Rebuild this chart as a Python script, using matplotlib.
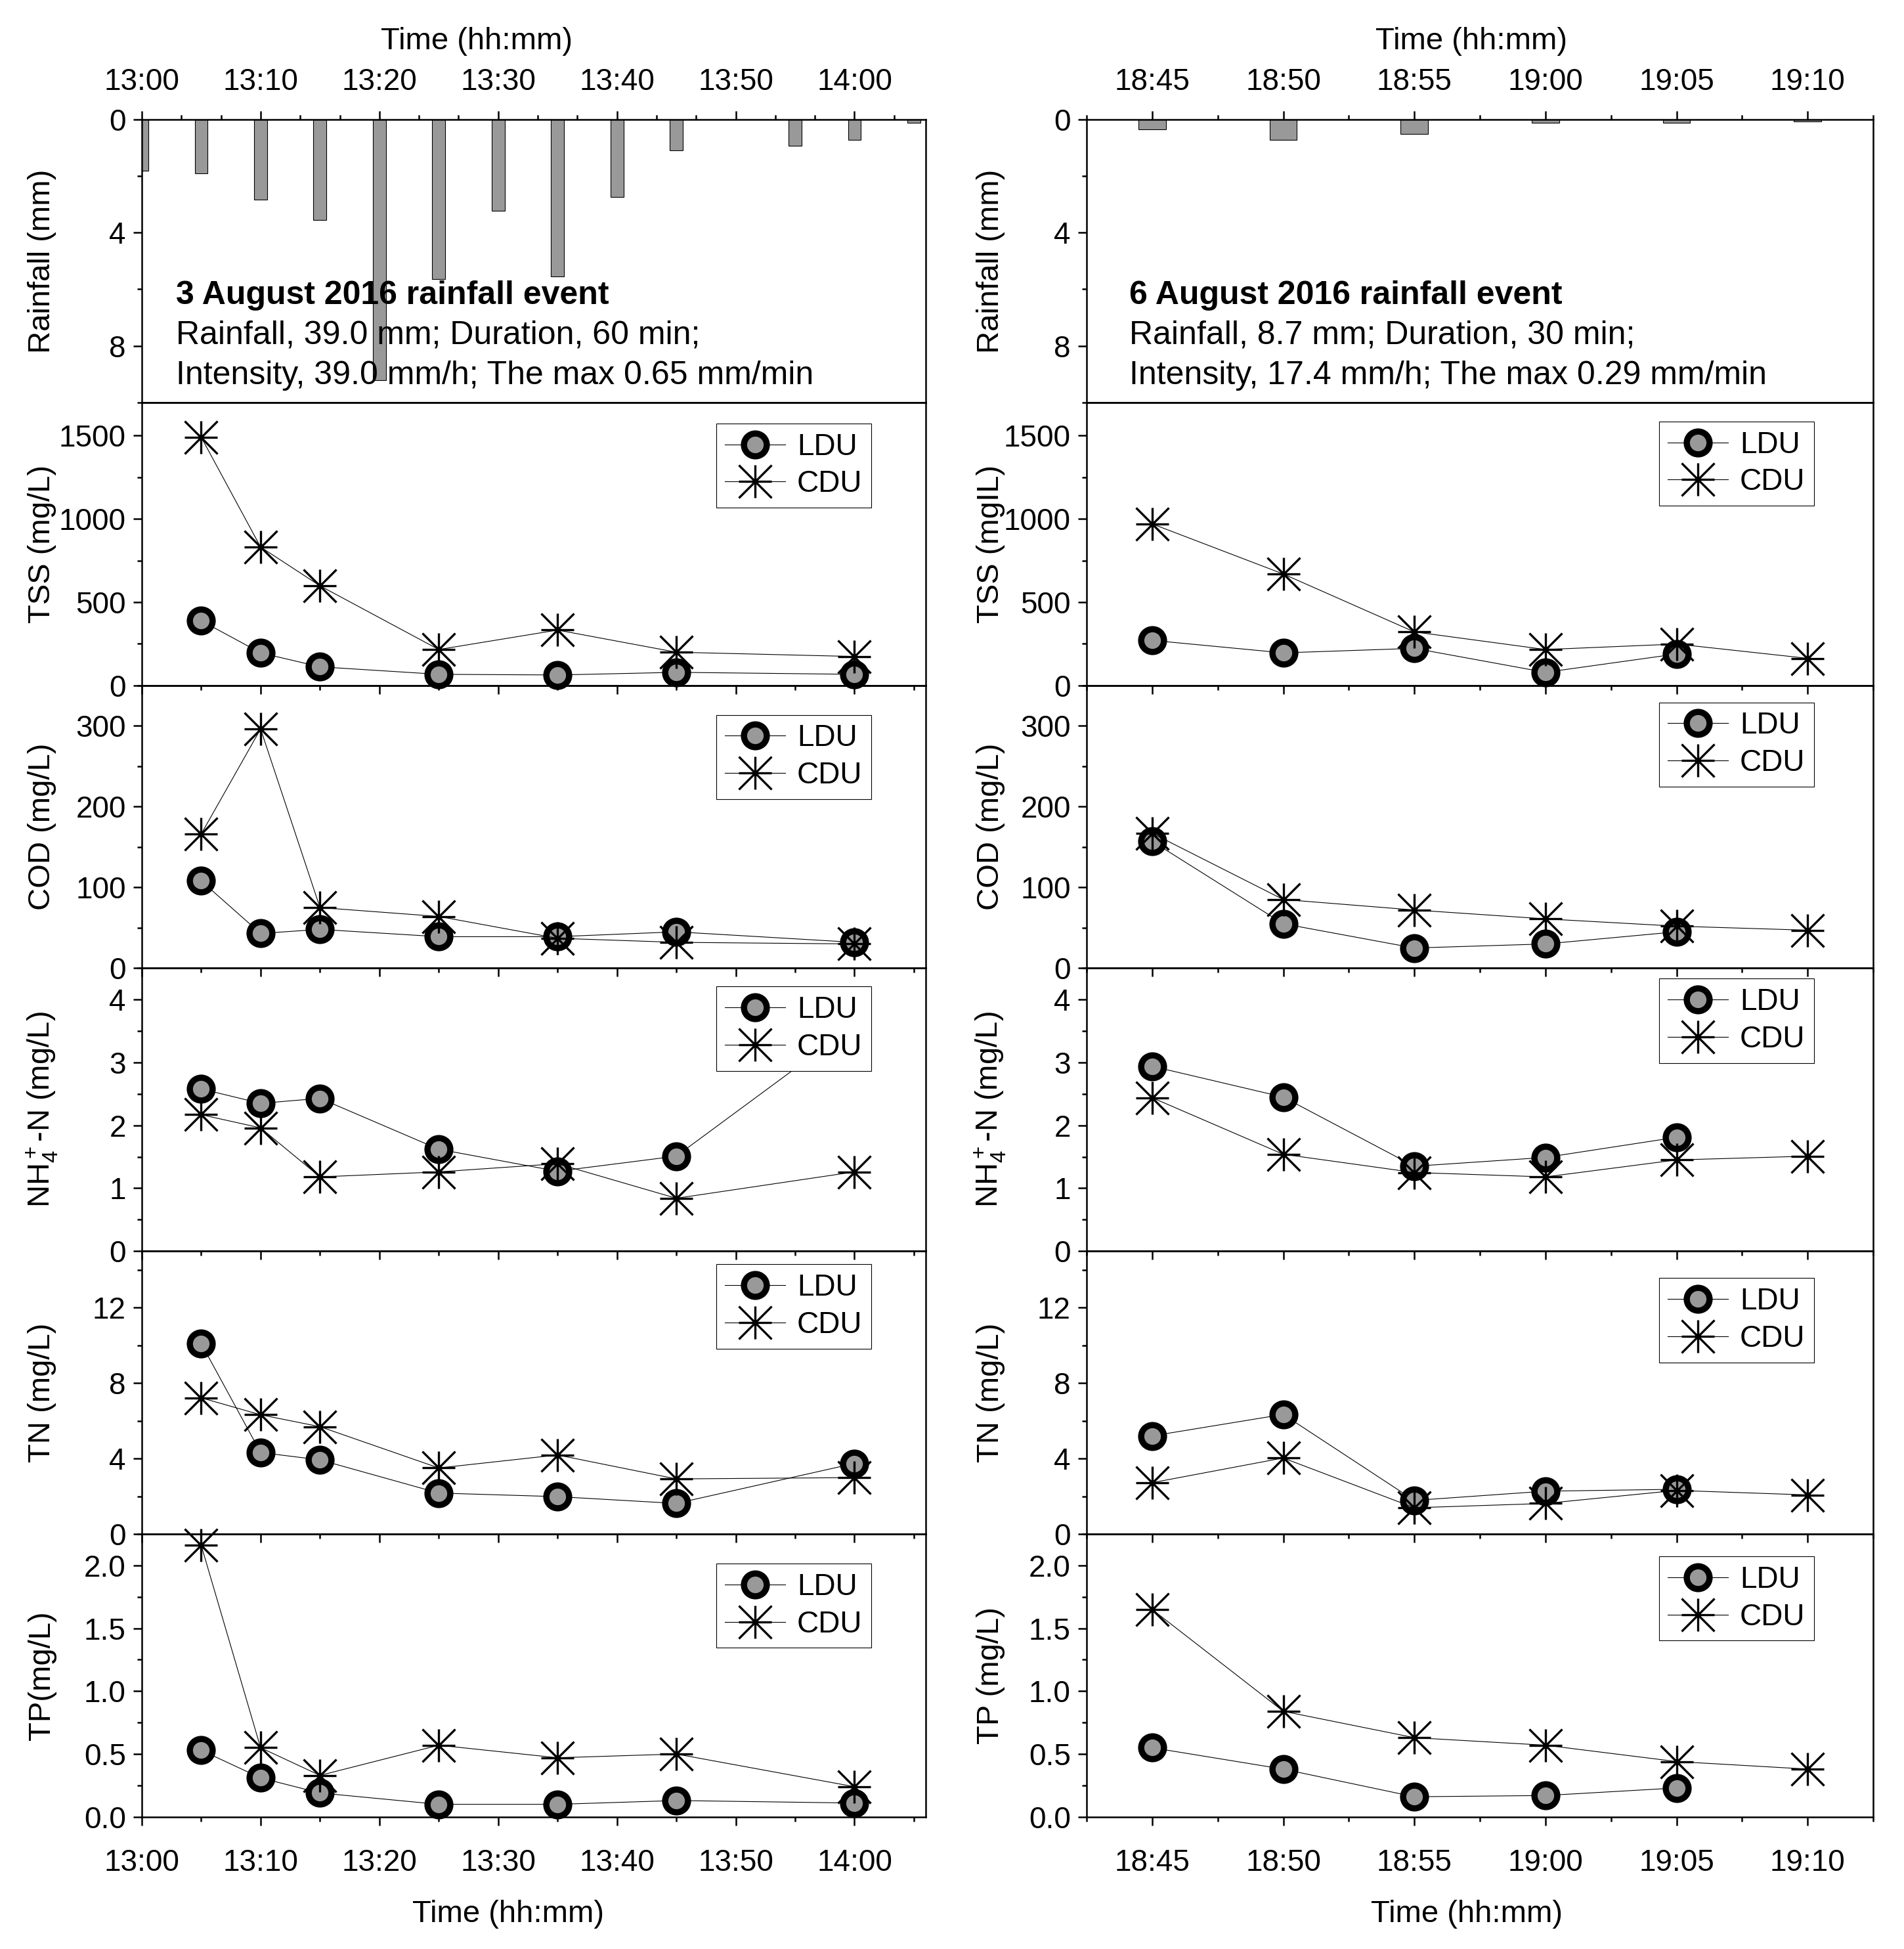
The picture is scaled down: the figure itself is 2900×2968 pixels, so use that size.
"""
Rainfall and runoff pollutant concentrations for two storm events
(LDU vs CDU outlets), six stacked panels per event.
"""

import matplotlib
matplotlib.use("Agg")
import matplotlib.pyplot as plt
import numpy as np
from matplotlib.path import Path
from matplotlib.ticker import FixedLocator, MultipleLocator, FormatStrFormatter

plt.rcParams["font.family"] = ["Liberation Sans", "DejaVu Sans"]
plt.rcParams["mathtext.fontset"] = "custom"
plt.rcParams["mathtext.rm"] = "Liberation Sans"
plt.rcParams["mathtext.it"] = "Liberation Sans:italic"
plt.rcParams["mathtext.bf"] = "Liberation Sans:bold"

# ---------------- 3 August 2016 event (left column) ----------------
aug3_start = "13:00"
aug3_ticks = ["13:00", "13:10", "13:20", "13:30", "13:40", "13:50", "14:00"]
aug3_rain_times = ["13:00", "13:05", "13:10", "13:15", "13:20", "13:25", "13:30",
                   "13:35", "13:40", "13:45", "13:55", "14:00", "14:05"]
aug3_rain_mm = [1.82, 1.91, 2.83, 3.54, 9.21, 5.63, 3.22, 5.54, 2.73, 1.10, 0.92, 0.72, 0.11]
aug3_times = ["13:05", "13:10", "13:15", "13:25", "13:35", "13:45", "14:00"]
aug3_tss_ldu = [388, 195, 111, 66, 62, 78, 66]
aug3_tss_cdu = [1491, 831, 598, 215, 332, 199, 173]
aug3_cod_ldu = [108, 43, 48, 39, 39, 45, 32]
aug3_cod_cdu = [166, 296, 75, 64, 37, 32, 30]
aug3_nh4_ldu = [2.58, 2.35, 2.43, 1.62, 1.27, 1.51, 3.6]
aug3_nh4_cdu = [2.17, 1.96, 1.18, 1.26, 1.39, 0.84, 1.26]
aug3_tn_ldu = [10.1, 4.32, 3.93, 2.17, 1.98, 1.62, 3.74]
aug3_tn_cdu = [7.22, 6.32, 5.69, 3.5, 4.19, 2.92, 2.99]
aug3_tp_ldu = [0.53, 0.31, 0.19, 0.10, 0.10, 0.13, 0.11]
aug3_tp_cdu = [2.16, 0.55, 0.33, 0.57, 0.47, 0.50, 0.24]
aug3_text = ["3 August 2016 rainfall event",
             "Rainfall, 39.0 mm; Duration, 60 min;",
             "Intensity, 39.0 mm/h; The max 0.65 mm/min"]

# ---------------- 6 August 2016 event (right column) ----------------
aug6_start = "18:45"
aug6_ticks = ["18:45", "18:50", "18:55", "19:00", "19:05", "19:10"]
aug6_rain_times = ["18:45", "18:50", "18:55", "19:00", "19:05", "19:10"]
aug6_rain_mm = [0.34, 0.72, 0.51, 0.11, 0.11, 0.07]
aug6_times_ldu = ["18:45", "18:50", "18:55", "19:00", "19:05"]
aug6_times_cdu = ["18:45", "18:50", "18:55", "19:00", "19:05", "19:10"]
aug6_tss_ldu = [270, 195, 222, 78, 188]
aug6_tss_cdu = [970, 669, 321, 215, 248, 162]
aug6_cod_ldu = [157, 55, 25, 30, 45]
aug6_cod_cdu = [167, 85, 72, 61, 52, 47]
aug6_nh4_ldu = [2.94, 2.45, 1.35, 1.49, 1.81]
aug6_nh4_cdu = [2.44, 1.54, 1.25, 1.18, 1.45, 1.51]
aug6_tn_ldu = [5.2, 6.34, 1.78, 2.27, 2.37]
aug6_tn_cdu = [2.72, 4.03, 1.39, 1.62, 2.31, 2.07]
aug6_tp_ldu = [0.55, 0.38, 0.16, 0.17, 0.23]
aug6_tp_cdu = [1.65, 0.84, 0.63, 0.57, 0.44, 0.38]
aug6_text = ["6 August 2016 rainfall event",
             "Rainfall, 8.7 mm; Duration, 30 min;",
             "Intensity, 17.4 mm/h; The max 0.29 mm/min"]

# ---------------- figure layout (pixels) ----------------
W, H = 2900, 2968
TOP = 182
PANEL_H = 430.8
TICK_FS = 33
LABEL_FS = 34
GREY = "#999999"

# asterisk marker used for CDU: + and x arms
STAR = Path([(-1, 0), (1, 0), (0, -1), (0, 1), (-1, -1), (1, 1), (-1, 1), (1, -1)],
            [Path.MOVETO, Path.LINETO] * 4)


def to_min(labels, start):
    h0, m0 = map(int, start.split(":"))
    out = []
    for s in labels:
        h, m = map(int, s.split(":"))
        out.append(h * 60 + m - (h0 * 60 + m0))
    return np.array(out, dtype=float)


def style_axes(ax):
    ax.patch.set_visible(False)
    for sp in ax.spines.values():
        sp.set_linewidth(1.8)
    ax.tick_params(which="both", direction="out", width=1.8, labelsize=TICK_FS)
    ax.tick_params(which="major", length=9.5)
    ax.tick_params(which="minor", length=5)
    ax.tick_params(axis="y", which="both", right=False, pad=8)


def draw_column(fig, left, width, col):
    axes = []
    for i in range(6):
        top = TOP + i * PANEL_H
        ax = fig.add_axes([left / W, 1 - (top + PANEL_H) / H, width / W, PANEL_H / H])
        style_axes(ax)
        ax.set_xlim(*col["xlim"])
        axes.append(ax)

    # rainfall bars, inverted axis, ticks on top
    ax = axes[0]
    ax.bar(to_min(col["rain_times"], col["start"]), col["rain_mm"], width=col["bar_w"],
           color=GREY, edgecolor="black", linewidth=0.8, zorder=2)
    ax.set_ylim(10, 0)
    ax.yaxis.set_major_locator(FixedLocator([0, 4, 8]))
    ax.yaxis.set_minor_locator(MultipleLocator(2))
    ax.xaxis.tick_top()
    ax.tick_params(axis="x", which="both", bottom=False, top=True,
                   labelbottom=False, labeltop=True, pad=16)
    ax.xaxis.set_major_locator(FixedLocator(to_min(col["ticks"], col["start"])))
    ax.xaxis.set_major_formatter(plt.FixedFormatter(col["ticks"]))
    ax.xaxis.set_minor_locator(MultipleLocator(col["top_minor"]))
    ax.xaxis.set_label_position("top")
    ax.set_xlabel("Time (hh:mm)", fontsize=LABEL_FS)
    ax.xaxis.label.set_va("center")
    ax.xaxis.set_label_coords(col["xlabel_top"], 1 + (TOP - 63) / PANEL_H)
    ax.set_ylabel("Rainfall (mm)", fontsize=LABEL_FS)
    for txt, yy, bold in zip(col["text"], [0.378, 0.237, 0.094], [True, False, False]):
        ax.text(col["text_x"], yy, txt, transform=ax.transAxes, ha="left", va="center",
                fontsize=36, fontweight="bold" if bold else "normal", zorder=4)

    panels = [
        ("tss", col["tss_label"], (0, 1700), 500, 250, "%d"),
        ("cod", "COD (mg/L)", (0, 350), 100, 50, "%d"),
        ("nh4", r"NH$_4^+$-N (mg/L)", (0, 4.5), 1, 0.5, "%d"),
        ("tn", "TN (mg/L)", (0, 15), 4, 2, "%d"),
        ("tp", col["tp_label"], (0, 2.25), 0.5, 0.25, "%.1f"),
    ]
    x_ldu = to_min(col["times_ldu"], col["start"])
    x_cdu = to_min(col["times_cdu"], col["start"])
    for j, (key, label, ylim, major, minor, fmt) in enumerate(panels):
        ax = axes[j + 1]
        ax.plot(x_ldu, col[key + "_ldu"], color="black", lw=0.8, marker="o", ms=25,
                mfc=GREY, mec="black", mew=6.8, clip_on=False, zorder=3, label="LDU")
        ax.plot(x_cdu, col[key + "_cdu"], color="black", lw=0.8, marker=STAR, ms=36,
                mfc="black", mec="black", mew=2.4, clip_on=False, zorder=3, label="CDU")
        ax.set_ylim(*ylim)
        ax.yaxis.set_major_locator(MultipleLocator(major))
        ax.yaxis.set_minor_locator(MultipleLocator(minor))
        ax.yaxis.set_major_formatter(FormatStrFormatter(fmt))
        ax.xaxis.set_major_locator(FixedLocator(to_min(col["ticks"], col["start"])))
        ax.xaxis.set_minor_locator(MultipleLocator(col["bottom_minor"]))
        ax.tick_params(axis="x", which="both", top=False, pad=25)
        ax.set_ylabel(label, fontsize=LABEL_FS)
        if j < 4:
            ax.tick_params(axis="x", labelbottom=False)
        else:
            ax.xaxis.set_major_formatter(plt.FixedFormatter(col["ticks"]))
            ax.set_xlabel("Time (hh:mm)", fontsize=LABEL_FS)
            ax.xaxis.label.set_va("center")
            ax.xaxis.set_label_coords(col["xlabel_bottom"], -148 / PANEL_H)
        dx = col["leg_dx"] / width
        dy = col["leg_dy"][j] / PANEL_H
        leg = ax.legend(loc="upper right", bbox_to_anchor=(1 - dx, 1 - dy), borderaxespad=0,
                        fontsize=TICK_FS, handlelength=2.0, handletextpad=0.39,
                        borderpad=0.3, labelspacing=0.28, fancybox=False,
                        edgecolor="black", framealpha=1, numpoints=1)
        leg.get_frame().set_linewidth(0.8)
        leg.set_zorder(10)

    for ax in axes:
        ax.yaxis.label.set_va("center")
        ax.yaxis.set_label_coords(col["ylabel_x"], 0.5)


fig = plt.figure(figsize=(W / 100, H / 100), dpi=100)

left_col = dict(
    start=aug3_start, ticks=aug3_ticks, xlim=(0, 66), bar_w=1.1,
    top_minor=10 / 3, bottom_minor=5,
    rain_times=aug3_rain_times, rain_mm=aug3_rain_mm,
    times_ldu=aug3_times, times_cdu=aug3_times,
    tss_ldu=aug3_tss_ldu, tss_cdu=aug3_tss_cdu, cod_ldu=aug3_cod_ldu, cod_cdu=aug3_cod_cdu,
    nh4_ldu=aug3_nh4_ldu, nh4_cdu=aug3_nh4_cdu, tn_ldu=aug3_tn_ldu, tn_cdu=aug3_tn_cdu,
    tp_ldu=aug3_tp_ldu, tp_cdu=aug3_tp_cdu,
    tss_label="TSS (mg/L)", tp_label="TP(mg/L)", text=aug3_text, text_x=0.0436,
    xlabel_top=0.427, xlabel_bottom=0.467, ylabel_x=-0.127,
    leg_dx=83, leg_dy=[32, 45, 28, 20, 45],
)
right_col = dict(
    start=aug6_start, ticks=aug6_ticks, xlim=(-2.5, 27.5), bar_w=1.05,
    top_minor=2.5, bottom_minor=2.5,
    rain_times=aug6_rain_times, rain_mm=aug6_rain_mm,
    times_ldu=aug6_times_ldu, times_cdu=aug6_times_cdu,
    tss_ldu=aug6_tss_ldu, tss_cdu=aug6_tss_cdu, cod_ldu=aug6_cod_ldu, cod_cdu=aug6_cod_cdu,
    nh4_ldu=aug6_nh4_ldu, nh4_cdu=aug6_nh4_cdu, tn_ldu=aug6_tn_ldu, tn_cdu=aug6_tn_cdu,
    tp_ldu=aug6_tp_ldu, tp_cdu=aug6_tp_cdu,
    tss_label="TSS (mgIL)", tp_label="TP (mg/L)", text=aug6_text, text_x=0.054,
    xlabel_top=0.489, xlabel_bottom=0.483, ylabel_x=-0.122,
    leg_dx=90, leg_dy=[29, 26, 16, 41, 34],
)

draw_column(fig, 216, 1194, left_col)
draw_column(fig, 1655, 1198, right_col)

fig.savefig("out.png", dpi=100, facecolor="white")
